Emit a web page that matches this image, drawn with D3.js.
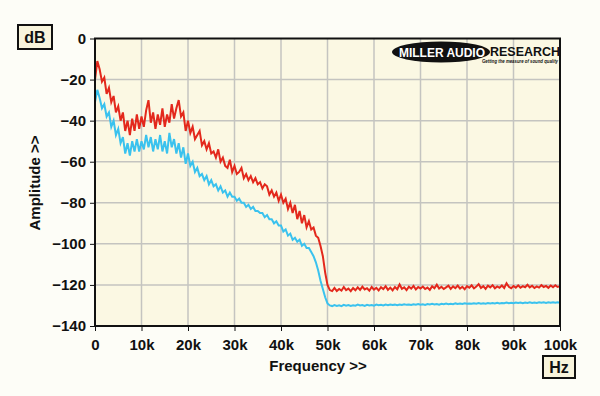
<!DOCTYPE html>
<html>
<head>
<meta charset="utf-8">
<script src="https://cdn.jsdelivr.net/npm/d3@7"></script>
<style>
  body { margin: 0; background: #fdfdf7; }
  svg { display: block; }
  text { font-family: "Liberation Sans", Arial, sans-serif; font-weight: bold; }
</style>
</head>
<body>
<svg id="chart" width="600" height="396"></svg>
<script>
// frequency step of the traces, in Hz (0 .. 100k)
const freqStep = 500;

// red trace, dB, one value every 0.5 kHz
const redTrace = [
  -20, -11, -15, -21, -19, -27, -24, -31, -28, -36, -33, -40, -36, -45, -40, -47, -39, -45, -37, -44, -38,
  -43, -35, -30, -41, -36, -44, -37, -42, -34, -43, -37, -41, -32, -39, -34, -30, -38, -36, -45, -40,
  -46, -43, -49, -47, -45, -52, -50, -54, -51, -56, -55, -58, -54, -60, -58, -62, -63, -59, -65, -62,
  -66, -65, -63, -68, -66, -69, -67, -70, -68, -71, -70, -73, -71, -72, -76, -74, -77, -75, -79, -76,
  -80, -78, -83, -80, -85, -81, -88, -84, -90, -86, -92, -89, -93, -92, -96, -97, -101, -106, -114, -120,
  -122.5, -123, -121.5, -123, -122, -122.8, -121, -122.5, -121.8, -123,
  -121.5, -122.6, -121.2, -122.4, -120.8, -122.2, -121.6, -122.8, -121, -122.3,
  -121.4, -122.7, -121.1, -122, -120.6, -122.4, -121.3, -122.6, -121, -122.1,
  -119.8, -121.9, -121.2, -122.5, -120.9, -121.8, -120.5, -122.2, -121, -121.7,
  -120.8, -122, -121.3, -122.4, -120.6, -121.6, -119.9, -121.8, -120.9, -122,
  -121.2, -120.4, -121.9, -120.7, -121.6, -120.3, -121.8, -120.9, -122.1, -120.6,
  -121.4, -120.2, -121.7, -120.8, -119.6, -121.5, -120.6, -121.9, -120.4, -121.2,
  -120.1, -121.6, -120.7, -121.4, -120.3, -121.5, -119.2, -120.9, -121.6, -120.5,
  -121.3, -120.2, -121.4, -120.6, -121.1, -119.9, -121.2, -120.4, -121.5, -120.7,
  -121.3, -120.1, -121, -120.5, -121.4, -120.3, -121.1, -120.2, -121, -120.6
];

// blue trace, dB, one value every 0.5 kHz
const blueTrace = [
  -31, -25, -29, -34, -32, -38, -36, -43, -40, -47, -44, -51, -48, -56, -51, -57, -50, -55, -49, -55, -50,
  -54, -47, -53, -48, -55, -49, -54, -47, -55, -50, -56, -46, -53, -49, -56, -51, -58, -53, -61, -56,
  -62, -60, -65, -63, -67, -66, -69, -67, -71, -69, -72, -71, -74, -72, -75, -74, -77, -75, -77, -77,
  -79, -78, -80, -80, -82, -81, -83, -82, -84, -84, -85, -85, -87, -86, -88, -88, -90, -89, -91, -91,
  -94, -93, -96, -95, -98, -97, -99, -98, -101, -100, -102, -102, -104, -106, -109, -113, -118, -122, -126, -129,
  -130, -130.3, -129.8, -130.2, -129.9, -130.3, -129.7, -130.1, -129.8, -130.2,
  -129.9, -130.1, -129.6, -130, -129.8, -130.2, -129.7, -130, -129.8, -130.1,
  -129.6, -129.9, -129.7, -130, -129.6, -129.9, -129.5, -129.8, -129.6, -129.9,
  -129.5, -129.8, -129.4, -129.7, -129.5, -129.8, -129.4, -129.6, -129.3, -129.6,
  -129.4, -129.7, -129.3, -129.5, -129.2, -129.5, -129.3, -129.6, -129.2, -129.4,
  -129.1, -129.4, -129.2, -129.4, -129, -129.3, -129.1, -129.3, -128.9, -129.2,
  -129, -129.2, -128.9, -129.1, -128.8, -129.1, -128.9, -129.1, -128.8, -129,
  -128.8, -129, -128.7, -129, -128.8, -128.9, -128.6, -128.9, -128.7, -128.9,
  -128.6, -128.8, -128.6, -128.9, -128.6, -128.8, -128.5, -128.8, -128.6, -128.8,
  -128.5, -128.7, -128.5, -128.8, -128.5, -128.7, -128.4, -128.7, -128.5, -128.7
];

const xTicks = [0, 10000, 20000, 30000, 40000, 50000, 60000, 70000, 80000, 90000, 100000];
const xTickLabels = ["0", "10k", "20k", "30k", "40k", "50k", "60k", "70k", "80k", "90k", "100k"];
const yTicks = [0, -20, -40, -60, -80, -100, -120, -140];

const svg = d3.select("#chart");

// plot area
const plotLeft = 95, plotRight = 560, plotTop = 38.5, plotBottom = 326;

const x = d3.scaleLinear().domain([0, 100000]).range([plotLeft, plotRight]);
const y = d3.scaleLinear().domain([0, -140]).range([plotTop, plotBottom]);

svg.append("rect")
  .attr("x", plotLeft).attr("y", plotTop)
  .attr("width", plotRight - plotLeft).attr("height", plotBottom - plotTop)
  .attr("fill", "#fbf8e3");

// grid
svg.append("g").selectAll("line")
  .data(xTicks.slice(1, -1))
  .enter().append("line")
  .attr("x1", d => x(d)).attr("x2", d => x(d))
  .attr("y1", plotTop).attr("y2", plotBottom)
  .attr("stroke", "#c4c4c0").attr("stroke-width", 1.5);

svg.append("g").selectAll("line")
  .data(yTicks.slice(1, -1))
  .enter().append("line")
  .attr("x1", plotLeft).attr("x2", plotRight)
  .attr("y1", d => y(d)).attr("y2", d => y(d))
  .attr("stroke", "#c4c4c0").attr("stroke-width", 1.5);

// traces
const line = d3.line()
  .x((d, i) => x(i * freqStep))
  .y(d => y(d));

svg.append("path")
  .datum(redTrace)
  .attr("d", line)
  .attr("fill", "none")
  .attr("stroke", "#e3281c")
  .attr("stroke-width", 2);

svg.append("path")
  .datum(blueTrace)
  .attr("d", line)
  .attr("fill", "none")
  .attr("stroke", "#3ac2ee")
  .attr("stroke-width", 2);

// frame
svg.append("rect")
  .attr("x", plotLeft).attr("y", plotTop)
  .attr("width", plotRight - plotLeft).attr("height", plotBottom - plotTop)
  .attr("fill", "none")
  .attr("stroke", "#111").attr("stroke-width", 2);

// axes
const xAxis = d3.axisBottom(x)
  .tickValues(xTicks)
  .tickFormat((d, i) => xTickLabels[i])
  .tickSize(5)
  .tickSizeOuter(0);

const gx = svg.append("g")
  .attr("transform", `translate(0,${plotBottom})`)
  .call(xAxis);
gx.select(".domain").remove();
gx.selectAll("line").attr("stroke", "#111");
gx.selectAll("text")
  .attr("font-size", 15)
  .attr("fill", "#111")
  .attr("dy", "1.05em");

const yAxis = d3.axisLeft(y)
  .tickValues(yTicks)
  .tickSize(5)
  .tickSizeOuter(0);

const gy = svg.append("g")
  .attr("transform", `translate(${plotLeft},0)`)
  .call(yAxis);
gy.select(".domain").remove();
gy.selectAll("line").attr("stroke", "#111");
gy.selectAll("text")
  .attr("font-size", 15)
  .attr("fill", "#111")
  .attr("x", -9);

// axis titles
svg.append("text")
  .attr("x", 318).attr("y", 371)
  .attr("text-anchor", "middle")
  .attr("font-size", 15)
  .attr("fill", "#111")
  .text("Frequency >>");

svg.append("text")
  .attr("transform", "translate(40,183) rotate(-90)")
  .attr("text-anchor", "middle")
  .attr("font-size", 15)
  .attr("fill", "#111")
  .text("Amplitude >>");

// unit boxes
svg.append("rect")
  .attr("x", 18).attr("y", 25).attr("width", 34).attr("height", 24)
  .attr("fill", "#f8f4dc").attr("stroke", "#111").attr("stroke-width", 2);
svg.append("text")
  .attr("x", 35).attr("y", 43)
  .attr("text-anchor", "middle")
  .attr("font-size", 16)
  .attr("fill", "#111")
  .text("dB");

svg.append("rect")
  .attr("x", 543).attr("y", 356).attr("width", 32).attr("height", 22)
  .attr("fill", "#f8f4dc").attr("stroke", "#111").attr("stroke-width", 2);
svg.append("text")
  .attr("x", 559).attr("y", 373)
  .attr("text-anchor", "middle")
  .attr("font-size", 16)
  .attr("fill", "#111")
  .text("Hz");

// logo
const logo = svg.append("g");
logo.append("ellipse")
  .attr("cx", 441).attr("cy", 52).attr("rx", 49).attr("ry", 10.5)
  .attr("fill", "#111");
logo.append("text")
  .attr("x", 399).attr("y", 56.5)
  .attr("font-size", 12.5)
  .attr("textLength", 86)
  .attr("lengthAdjust", "spacingAndGlyphs")
  .attr("fill", "#fff")
  .text("MILLER AUDIO");
logo.append("text")
  .attr("x", 490).attr("y", 55.5)
  .attr("font-size", 12)
  .attr("textLength", 70)
  .attr("lengthAdjust", "spacingAndGlyphs")
  .attr("fill", "#111")
  .text("RESEARCH");
logo.append("text")
  .attr("x", 482).attr("y", 62.5)
  .attr("font-size", 4.5)
  .attr("font-style", "italic")
  .attr("textLength", 76)
  .attr("lengthAdjust", "spacingAndGlyphs")
  .attr("fill", "#111")
  .text("Getting the measure of sound quality");
</script>
</body>
</html>
